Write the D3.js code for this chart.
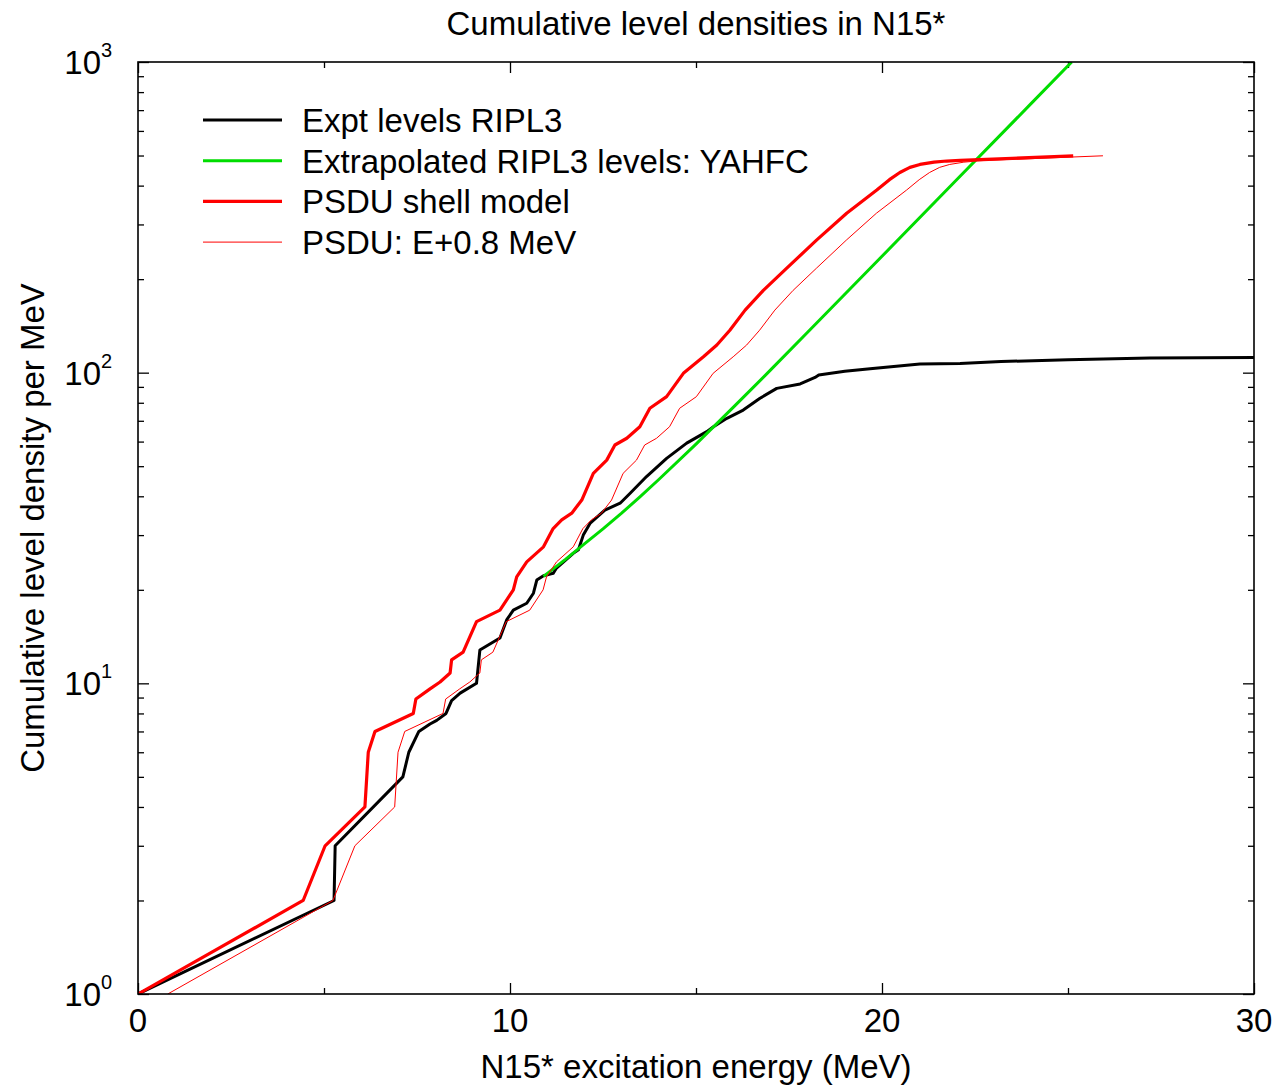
<!DOCTYPE html>
<html>
<head>
<meta charset="utf-8">
<script src="https://cdn.jsdelivr.net/npm/d3@7"></script>
<style>
  body { margin: 0; background: #fff; }
  svg { display: block; font-family: "Liberation Sans", Arial, sans-serif; }
</style>
</head>
<body>
<svg id="chart" width="1277" height="1087"></svg>
<script>
// Expt levels RIPL3 (cumulative count vs excitation energy)
const exptE = [0, 5.27, 5.30, 7.12, 7.28, 7.55, 7.85, 8.03, 8.28, 8.43, 8.66, 9.10, 9.19, 9.73, 9.91, 10.09, 10.45, 10.63, 10.72, 10.90, 11.16, 11.25, 11.70, 11.84, 11.97, 12.15, 12.55, 12.96, 13.23, 13.67, 14.21, 14.75, 15.29, 15.47, 15.83, 16.27, 16.72, 17.17, 17.8, 18.2, 18.3, 19.0, 19.68, 21.02, 22.1, 23.2, 25.0, 27.2, 30];
const exptN = [1, 2, 3, 5, 6, 7, 7.4, 7.6, 8, 8.8, 9.3, 10, 12.8, 14, 16, 17.2, 18.1, 19.5, 21.5, 22.2, 22.6, 23.5, 26.2, 26.9, 30, 32.7, 36.1, 38, 40.9, 46.3, 53, 59.3, 64.6, 67, 71.3, 75.8, 82.7, 89, 92, 96.5, 98.3, 101, 103, 106.6, 107, 108.6, 110, 111.4, 112];

// Extrapolated RIPL3 levels: YAHFC
const yahfcE = [10.9, 11.5, 12, 12.5, 13, 13.5, 14, 15, 16, 17, 18, 20, 22, 24, 25.1];
const yahfcN = [22.1, 25.1, 28.1, 31.4, 35.3, 39.9, 45.3, 58.9, 77.3, 101.9, 134.9, 237, 417, 733, 1000];

// PSDU shell model
const psduE = [0, 4.44, 5.03, 6.10, 6.19, 6.37, 7.40, 7.47, 7.85, 8.12, 8.39, 8.43, 8.74, 9.10, 9.73, 10.09, 10.18, 10.45, 10.90, 11.16, 11.39, 11.66, 11.93, 12.24, 12.60, 12.82, 13.14, 13.49, 13.76, 14.21, 14.66, 15.20, 15.56, 15.91, 16.32, 16.81, 17.44, 18.24, 19.05, 19.86, 20.2, 20.48, 20.75, 21.02, 21.4, 21.74, 22.1, 23.5, 25.14];
const psduN = [1, 2, 3, 4, 6, 7, 8, 8.9, 9.6, 10.1, 10.8, 11.9, 12.6, 15.8, 17.2, 20, 22, 24.6, 27.5, 31.5, 33.6, 35.3, 38.9, 47.4, 52.3, 58.5, 61.5, 67, 76.8, 83.7, 99.5, 112.5, 122.7, 137, 159, 184, 217, 267, 326, 387, 418, 441, 458, 468, 476, 480, 482, 490, 499];

// PSDU: E+0.8 MeV
const psduShiftE = [0.8, 5.24, 5.83, 6.90, 6.99, 7.17, 8.20, 8.27, 8.65, 8.92, 9.19, 9.23, 9.54, 9.90, 10.53, 10.89, 10.98, 11.25, 11.70, 11.96, 12.19, 12.46, 12.73, 13.04, 13.40, 13.62, 13.94, 14.29, 14.56, 15.01, 15.46, 16.00, 16.36, 16.71, 17.12, 17.61, 18.24, 19.04, 19.85, 20.66, 21.0, 21.28, 21.55, 21.82, 22.2, 22.54, 22.9, 24.3, 25.94];
const psduShiftN = [1, 2, 3, 4, 6, 7, 8, 8.9, 9.6, 10.1, 10.8, 11.9, 12.6, 15.8, 17.2, 20, 22, 24.6, 27.5, 31.5, 33.6, 35.3, 38.9, 47.4, 52.3, 58.5, 61.5, 67, 76.8, 83.7, 99.5, 112.5, 122.7, 137, 159, 184, 217, 267, 326, 387, 418, 441, 458, 468, 476, 480, 482, 490, 499];

const xMajor = [0, 10, 20, 30];
const xMinor = [5, 15, 25];
const yMajor = [1, 10, 100, 1000];
const yExp = ["0", "1", "2", "3"];

const series = [
  { name: "Expt levels RIPL3", xs: exptE, ys: exptN, color: "#000000", width: 3 },
  { name: "Extrapolated RIPL3 levels: YAHFC", xs: yahfcE, ys: yahfcN, color: "#00dd00", width: 3 },
  { name: "PSDU shell model", xs: psduE, ys: psduN, color: "#ff0000", width: 3.2 },
  { name: "PSDU: E+0.8 MeV", xs: psduShiftE, ys: psduShiftN, color: "#ff0000", width: 1 }
];

const svg = d3.select("#chart");
const mLeft = 138, mRight = 1254, mTop = 62, mBottom = 994;

const x = d3.scaleLinear().domain([0, 30]).range([mLeft, mRight]);
const y = d3.scaleLog().domain([1, 1000]).range([mBottom, mTop]);

svg.append("clipPath").attr("id", "clip")
  .append("rect").attr("x", mLeft).attr("y", mTop)
  .attr("width", mRight - mLeft).attr("height", mBottom - mTop);

// minor log ticks 2..9 per decade
const yMinor = [];
yMajor.slice(0, 3).forEach(d => { for (let k = 2; k <= 9; k++) yMinor.push(d * k); });

function tickAxis(axis, size, vals, tr) {
  const g = svg.append("g").attr("transform", tr)
    .call(axis.tickValues(vals).tickSize(size).tickFormat(""));
  g.select(".domain").remove();
  g.selectAll(".tick line").attr("stroke", "#000").attr("stroke-width", 1.3);
  return g;
}
tickAxis(d3.axisBottom(x), -11, xMajor, `translate(0,${mBottom})`);
tickAxis(d3.axisBottom(x), -6, xMinor, `translate(0,${mBottom})`);
tickAxis(d3.axisTop(x), -11, xMajor, `translate(0,${mTop})`);
tickAxis(d3.axisTop(x), -6, xMinor, `translate(0,${mTop})`);
tickAxis(d3.axisLeft(y), -11, yMajor, `translate(${mLeft},0)`);
tickAxis(d3.axisLeft(y), -6, yMinor, `translate(${mLeft},0)`);
tickAxis(d3.axisRight(y), -11, yMajor, `translate(${mRight},0)`);
tickAxis(d3.axisRight(y), -6, yMinor, `translate(${mRight},0)`);

// curves
const plot = svg.append("g").attr("clip-path", "url(#clip)");
series.forEach(s => {
  const pts = s.xs.map((e, i) => [e, s.ys[i]]);
  plot.append("path")
    .datum(pts)
    .attr("fill", "none")
    .attr("stroke", s.color)
    .attr("stroke-width", s.width)
    .attr("stroke-linejoin", "round")
    .attr("d", d3.line().x(d => x(d[0])).y(d => y(d[1])));
});

// frame
svg.append("rect")
  .attr("x", mLeft).attr("y", mTop)
  .attr("width", mRight - mLeft).attr("height", mBottom - mTop)
  .attr("fill", "none").attr("stroke", "#000").attr("stroke-width", 1.6);

// tick labels
svg.append("g").selectAll("text").data(xMajor).join("text")
  .attr("x", d => x(d)).attr("y", mBottom + 38)
  .attr("text-anchor", "middle").attr("font-size", 33)
  .text(d => d);

const yl = svg.append("g").selectAll("g").data(yMajor).join("g");
yl.append("text")
  .attr("x", 101).attr("y", d => y(d) + 12)
  .attr("text-anchor", "end").attr("font-size", 33)
  .text("10");
yl.append("text")
  .attr("x", 101).attr("y", d => y(d) - 5)
  .attr("font-size", 20)
  .text((d, i) => yExp[i]);

// titles
svg.append("text")
  .attr("x", (mLeft + mRight) / 2).attr("y", 35)
  .attr("text-anchor", "middle").attr("font-size", 33)
  .text("Cumulative level densities in N15*");
svg.append("text")
  .attr("x", (mLeft + mRight) / 2).attr("y", 1078)
  .attr("text-anchor", "middle").attr("font-size", 33)
  .text("N15* excitation energy (MeV)");
svg.append("text")
  .attr("transform", `translate(44,${(mTop + mBottom) / 2}) rotate(-90)`)
  .attr("text-anchor", "middle").attr("font-size", 33)
  .text("Cumulative level density per MeV");

// legend
const leg = svg.append("g").selectAll("g").data(series).join("g")
  .attr("transform", (d, i) => `translate(0,${120 + i * 40.7})`);
leg.append("line")
  .attr("x1", 203).attr("x2", 282)
  .attr("stroke", d => d.color).attr("stroke-width", d => d.width);
leg.append("text")
  .attr("x", 302).attr("y", 12)
  .attr("font-size", 33)
  .text(d => d.name);
</script>
</body>
</html>
